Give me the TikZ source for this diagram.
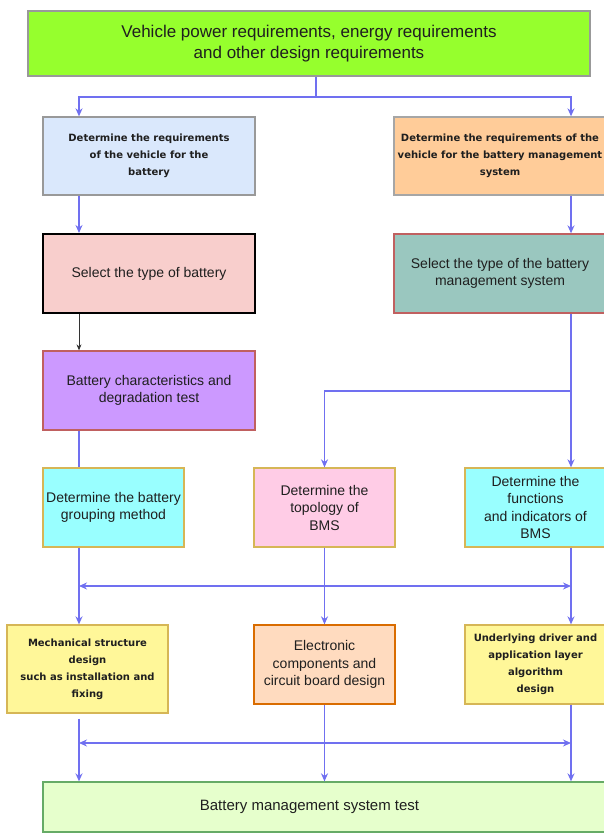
\documentclass[tikz,border=0pt]{standalone}
\usepackage{fontspec}
\setmainfont{Liberation Sans}
\newfontfamily\widefont{DejaVu Sans}
\usepackage{tikz}
\usetikzlibrary{arrows.meta, calc}

\definecolor{linkblue}{RGB}{112,112,240}
\definecolor{limefill}{RGB}{150,255,45}
\definecolor{skyfill}{HTML}{DAE8FC}
\definecolor{apricot}{HTML}{FFCC99}
\definecolor{rosefill}{HTML}{F8CECC}
\definecolor{tealfill}{HTML}{9AC7BF}
\definecolor{violetfill}{HTML}{CC99FF}
\definecolor{cyanfill}{HTML}{99FFFF}
\definecolor{pinkfill}{HTML}{FFCCE6}
\definecolor{lemonfill}{HTML}{FFF799}
\definecolor{peachfill}{HTML}{FFDBBF}
\definecolor{mintfill}{HTML}{E6FFCC}
\definecolor{goldline}{HTML}{D6B656}
\definecolor{redline}{HTML}{C06060}

\begin{document}
\begin{tikzpicture}[x=1pt, y=-1pt,
    box/.style={draw, rectangle, align=center, inner sep=2pt, line width=1.3pt, text=black!88},
    plain/.style={font=\fontsize{14}{17.5}\selectfont},
    heavy/.style={font=\widefont\bfseries\fontsize{10}{17}\selectfont},
    flow/.style={draw=linkblue, line width=1.3pt, -{Stealth[length=8pt, width=7pt]}},
    link/.style={draw=linkblue, line width=1.3pt},
    both/.style={draw=linkblue, line width=1.3pt, {Stealth[length=8pt, width=7pt]}-{Stealth[length=8pt, width=7pt]}}
  ]
  \useasboundingbox (0,0) rectangle (604,834);

  % Columns
  \coordinate (colL) at (79,0);
  \coordinate (colM) at (324.5,0);
  \coordinate (colR) at (571,0);

  % Top
  \node[box, fill=limefill, draw=black!40, line width=2pt, minimum width=562, minimum height=65,
        font=\fontsize{17}{21}\selectfont] (req) at (309,43.5)
        {Vehicle power requirements, energy requirements\\and other design requirements};

  % Battery side
  \node[box, heavy, fill=skyfill, draw=black!40, minimum width=212, minimum height=78] (vehbat) at (149,156)
        {Determine the requirements\\of the vehicle for the\\battery};
  \node[box, plain, fill=rosefill, draw=black, line width=2pt, minimum width=212, minimum height=79] (battype) at (149,273.5)
        {Select the type of battery};
  \node[box, plain, fill=violetfill, draw=redline, minimum width=212, minimum height=79] (degrade) at (149,390.5)
        {Battery characteristics and\\degradation test};

  % BMS side
  \node[box, heavy, fill=apricot, draw=black!35, minimum width=212, minimum height=78] (vehbms) at (500,156)
        {Determine the requirements of the\\vehicle for the battery management\\system};
  \node[box, plain, fill=tealfill, draw=redline, minimum width=212, minimum height=79] (bmstype) at (500,273.5)
        {Select the type of the battery\\management system};

  % Third row
  \node[box, plain, fill=cyanfill, draw=goldline, minimum width=141, minimum height=79] (grouping) at (113.5,507.5)
        {Determine the battery\\grouping method};
  \node[box, plain, fill=pinkfill, draw=goldline, minimum width=141, minimum height=79] (topology) at (324.5,507.5)
        {Determine the\\topology of\\BMS};
  \node[box, plain, fill=cyanfill, draw=goldline, minimum width=141, minimum height=79] (functions) at (535.5,507.5)
        {Determine the\\functions\\and indicators of\\BMS};

  % Design row
  \node[box, heavy, fill=lemonfill, draw=goldline, minimum width=161, minimum height=88] (mech) at (87.5,669)
        {Mechanical structure\\design\\such as installation and\\fixing};
  \node[box, plain, fill=peachfill, draw=orange!85!black, minimum width=141, minimum height=79] (circuit) at (324.5,664.5)
        {Electronic\\components and\\circuit board design};
  \node[box, heavy, fill=lemonfill, draw=goldline, minimum width=141, minimum height=79] (software) at (535.5,664.5)
        {Underlying driver and\\application layer\\algorithm\\design};

  % Test
  \node[box, fill=mintfill, draw=green!45!black!60, minimum width=563, minimum height=50,
        font=\fontsize{15}{18}\selectfont] (bmstest) at (324.5,807)
        {\hspace*{-30pt}Battery management system test};

  % Split from the top
  \coordinate (split) at (316,97);
  \draw[link] (req.south -| split) -- (split);
  \draw[flow] (split) -| (vehbat.north -| colL);
  \draw[flow] (split) -| (vehbms.north -| colR);

  % Left chain
  \draw[flow] (vehbat.south -| colL) -- (battype.north -| colL);
  \draw[black!80, line width=0.8pt, -{Stealth[length=6pt, width=5pt]}] (battype.south -| colL) -- (degrade.north -| colL);
  \draw[link] (degrade.south -| colL) -- (grouping.north -| colL);

  % Right chain
  \coordinate (fork) at (571,391);
  \draw[flow] (vehbms.south -| colR) -- (bmstype.north -| colR);
  \draw[flow] (bmstype.south -| colR) -- (functions.north -| colR);
  \draw[flow] (fork) -| (topology.north);

  % First bus
  \coordinate (busL) at (79,586);
  \coordinate (busR) at (571,586);
  \draw[flow] (grouping.south -| colL) -- (mech.north -| colL);
  \draw[flow] (topology.south) -- (circuit.north);
  \draw[flow] (functions.south -| colR) -- (software.north -| colR);
  \draw[both] (busL) -- (busR);

  % Second bus
  \coordinate (lowL) at (79,743);
  \coordinate (lowR) at (571,743);
  \draw[flow] ([yshift=-5pt]mech.south -| colL) -- (bmstest.north -| colL);
  \draw[flow] (circuit.south) -- (bmstest.north -| colM);
  \draw[flow] (software.south -| colR) -- (bmstest.north -| colR);
  \draw[both] (lowL) -- (lowR);
\end{tikzpicture}
\end{document}
